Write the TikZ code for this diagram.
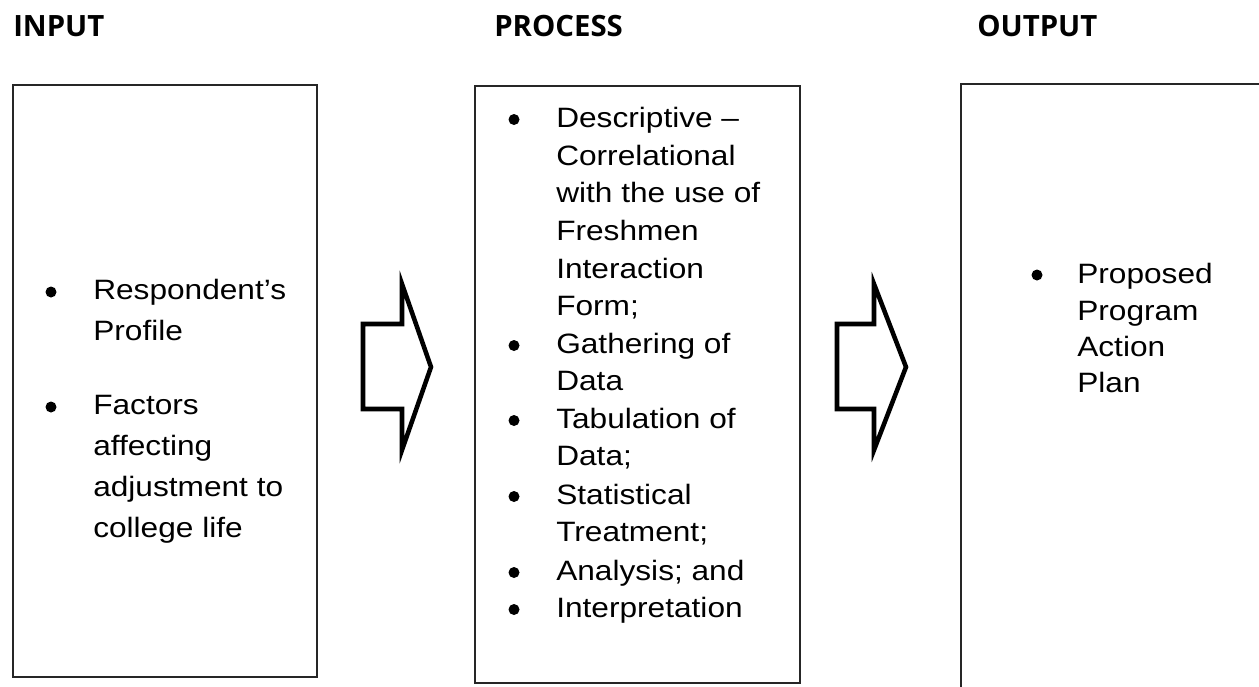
\documentclass[tikz,border=0pt]{standalone}
\usepackage{fontspec}
\setmainfont{Liberation Sans}[FakeStretch=1.13]
\newfontfamily\headfont{Open Sans}

\tikzset{
  box/.style={draw=black!85,line width=1.5pt},
  bigarrow/.style={draw=black,line width=3.4pt,miter limit=10},
  head/.style={anchor=base west,inner sep=0pt,font=\headfont\bfseries\fontsize{22}{26}\selectfont},
  txtline/.style={anchor=base west,inner sep=0pt},
}

\begin{document}
\begin{tikzpicture}[x=.75pt,y=-.75pt,font=\fontsize{21}{25}\selectfont]
  \useasboundingbox (0,0) rectangle (1259,686);
  \clip (0,0) rectangle (1259,686);

  % headings
  \node[head] (hin) at (13,36) {INPUT};
  \node[head] (hproc) at (494,36) {PROCESS};
  \node[head] (hout) at (977,36) {OUTPUT};

  % boxes
  \draw[box] (13,85) rectangle (317,677);
  \draw[box] (475,86) rectangle (800,683);
  \draw[box] (961,84) rectangle (1275,700);

  % block arrows
  \foreach \a/\b/\c in {363/402/431, 837/874/906}
    \draw[bigarrow] (\a,324) -- (\b,324) -- (\b,284) -- (\c,367)
      -- (\b,450) -- (\b,409) -- (\a,409) -- cycle;

  % input
  \foreach \y/\txt [count=\i] in {299/Respondent’s, 340/Profile, 414/Factors,
      455/affecting, 496/adjustment to, 537/college life}
    \node[txtline] (in\i) at (93,\y) {\txt};
  \foreach \y in {299,414}
    \fill (51,\y-7) circle (5.5);

  % process
  \foreach \y/\txt [count=\i] in {127/Descriptive –, 165/Correlational,
      202/with the use of, 240/Freshmen, 278/Interaction, 315/Form;,
      353/Gathering of, 390/Data, 428/Tabulation of, 465/Data;,
      504/Statistical, 541/Treatment;, 580/Analysis; and, 617/Interpretation}
    \node[txtline] (pr\i) at (556,\y) {\txt};
  \foreach \y in {127,353,428,504,580,617}
    \fill (514,\y-7.5) circle (5.5);

  % output
  \foreach \y/\txt [count=\i] in {283/Proposed, 320/Program, 356/Action, 392/Plan}
    \node[txtline] (out\i) at (1077,\y) {\txt};
  \fill (1037,275) circle (5.5);
\end{tikzpicture}
\end{document}
